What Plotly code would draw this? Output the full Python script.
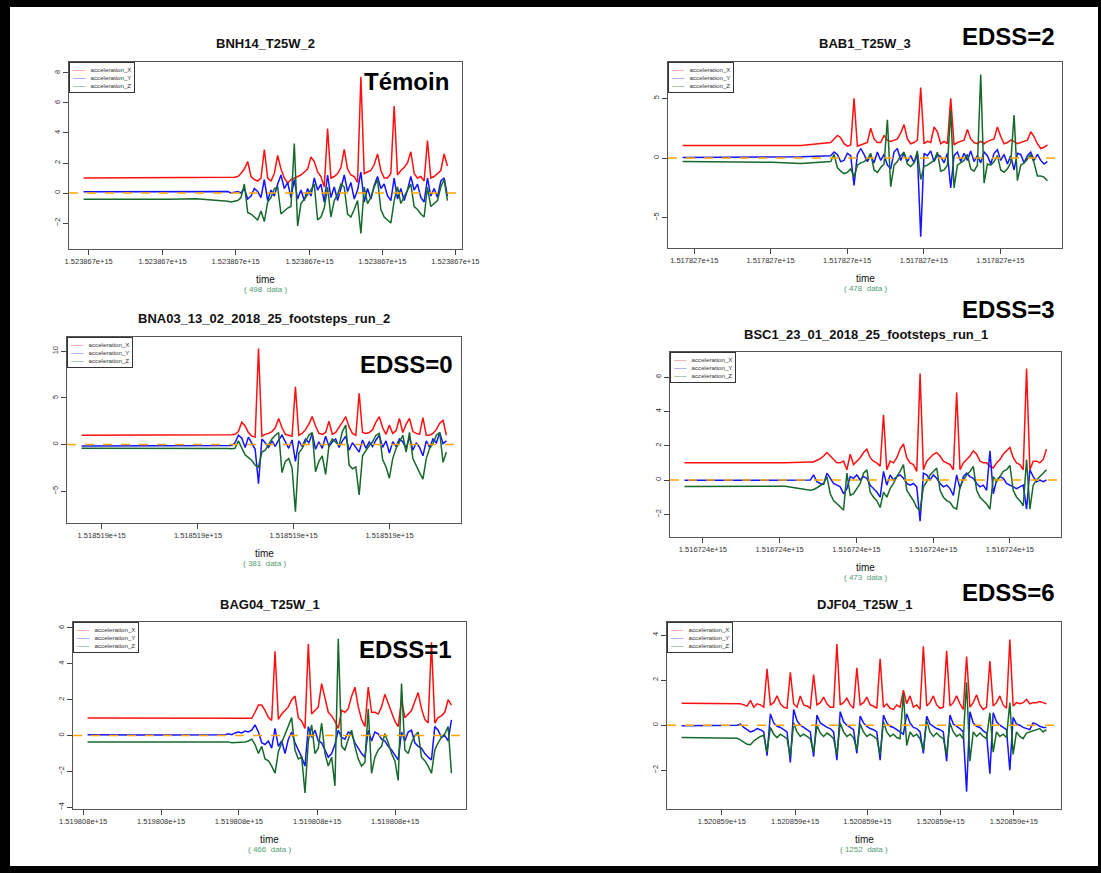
import plotly.graph_objects as go

# ====================== DATA ======================
TITLES = ["BNH14_T25W_2", "BAB1_T25W_3", "BNA03_13_02_2018_25_footsteps_run_2",
          "BSC1_23_01_2018_25_footsteps_run_1", "BAG04_T25W_1", "DJF04_T25W_1"]
TAGS = ["Témoin", "EDSS=2", "EDSS=0", "EDSS=3", "EDSS=1", "EDSS=6"]
N_DATA = [498, 478, 381, 473, 466, 1252]
TICK_LABELS = ["1.523867e+15", "1.517827e+15", "1.518519e+15",
               "1.516724e+15", "1.519808e+15", "1.520859e+15"]
SERIES_NAMES = ["acceleration_X", "acceleration_Y", "acceleration_Z"]

# time axis expressed in % of the recording; ticks where R placed them
X_TICKS_1 = [1.4, 21.7, 41.8, 62.1, 82.1, 102.2]
X_TICKS_2 = [3.2, 24.1, 45.1, 66.1, 87.1]
X_TICKS_3 = [5.5, 31.9, 58.1, 84.4]
X_TICKS_4 = [5.1, 26.3, 47.5, 68.7, 89.9]
X_TICKS_5 = [-1.2, 20.2, 41.6, 63.1, 84.5]
X_TICKS_6 = [11.0, 31.1, 50.9, 71.0, 91.1]

Y_TICKS_1 = [-2, 0, 2, 4, 6, 8]
Y_TICKS_2 = [-5, 0, 5]
Y_TICKS_3 = [-5, 0, 5, 10]
Y_TICKS_4 = [-2, 0, 2, 4, 6]
Y_TICKS_5 = [-4, -2, 0, 2, 4, 6]
Y_TICKS_6 = [-2, 0, 2, 4]

# number of resting samples and % of the record where walking starts
FLAT_COUNT = [5, 5, 5, 5, 5, 2]
WALK_START = [38.7, 40.6, 39.3, 34.75, 37.8, 13.4]

# ---- panel 1 : BNH14_T25W_2 ----
P1_ACC_X = [1.0, 1.0, 1.0, 1.0, 1.0,
            1.0, 1.0, 1.0, 1.05, 1.1, 1.3, 1.6, 2.1, 1.1, 0.9,
            0.8, 1.0, 2.9, 1.0, 0.8, 1.3, 2.5, 1.6, 1.0, 0.65,
            0.9, 1.0, 1.1, 1.2, 1.4, 1.6, 2.4, 2.1, 1.4, 1.1,
            0.4, 4.3, 1.0, 1.1, 1.3, 1.7, 2.9, 1.6, 1.2, 1.1,
            0.7, 7.75, 1.3, 1.4, 1.5, 1.9, 2.6, 1.5, 1.0, 1.0,
            1.3, 5.8, 1.2, 1.5, 1.7, 2.0, 2.75, 1.3, 1.0, 1.1,
            0.8, 3.5, 1.0, 1.1, 1.3, 1.5, 2.6, 1.8]
P1_ACC_Y = [0.08, 0.08, 0.06, 0.08, 0.1,
            0.05, 0.1, 0.0, 0.05, 0.1, 0.0, 0.3, -0.4, -0.2, 0.3,
            0.1, -0.3, 0.9, -0.5, 0.2, -0.2, 0.6, 1.2, 0.3, 0.7,
            -0.3, 0.9, -0.4, 0.2, -0.5, 0.3, -0.2, 1.0, 0.2, 0.6,
            -0.6, 1.2, -0.3, 0.4, -0.5, 0.3, 1.2, 0.1, 0.7, -0.4,
            0.2, 1.4, -0.6, 0.3, -0.4, 0.5, 1.1, 0.3, 0.6, -0.2,
            -0.5, 1.0, -0.4, 0.3, -0.5, 0.2, 1.1, 0.2, 0.6, -0.3,
            -0.6, 1.0, -0.2, 0.3, -0.3, 0.8, 1.0, -0.2]
P1_ACC_Z = [-0.42, -0.43, -0.42, -0.42, -0.38,
            -0.5, -0.55, -0.6, -0.55, -0.5, -0.3, 0.6, -1.3, -1.4, -1.6,
            -1.8, -1.2, -1.9, -0.6, -0.3, 0.3, 0.4, -1.4, -1.2, -1.0,
            -0.9, 3.3, -2.2, -0.7, -0.4, -0.1, 0.2, 0.6, -1.8, -1.6,
            -1.0, 0.4, -1.6, -0.5, -0.1, 0.6, 0.4, -1.4, -1.6, -1.1,
            -0.5, -2.7, 0.4, -0.7, -0.3, 0.4, 0.9, -1.1, -1.6, -1.8,
            -2.0, -0.5, 0.4, -0.7, -0.2, 0.2, 0.6, -0.9, -1.1, -1.4,
            -1.6, 0.4, -0.9, -0.7, -0.5, 0.4, 0.9, -0.5]

# ---- panel 2 : BAB1_T25W_3 ----
P2_ACC_X = [1.05, 1.05, 1.05, 1.05, 1.05,
            1.3, 1.6, 1.9, 1.7, 1.2, 1.0, 1.1, 5.0, 1.0, 1.1,
            1.2, 1.3, 2.5, 1.6, 1.3, 1.3, 1.9, 1.5, 1.4, 1.5,
            1.6, 2.1, 2.8, 1.6, 1.2, 1.3, 1.5, 5.9, 1.2, 1.4,
            1.3, 2.6, 2.2, 1.2, 1.4, 1.2, 5.0, 1.1, 1.3, 1.4,
            1.5, 2.4, 1.6, 1.3, 1.2, 1.4, 1.2, 1.4, 1.5, 1.6,
            2.6, 1.8, 1.2, 1.3, 1.5, 1.4, 1.2, 1.3, 1.4, 1.5,
            2.2, 1.8, 1.2, 0.8, 0.9, 1.1]
P2_ACC_Y = [0.05, 0.05, 0.08, 0.05, 0.1,
            0.2, 0.5, 0.3, -0.3, -0.2, 0.4, 0.2, -2.3, 0.3, 0.8,
            0.3, -0.3, 0.2, -0.4, 0.5, -0.2, 0.3, -0.6, -0.9, 0.5,
            0.8, -0.2, 0.4, -0.3, 0.2, -0.4, 0.3, -6.6, 0.4, 0.2,
            0.6, -0.3, 0.3, 0.1, -0.4, 0.4, -2.5, 0.2, 0.5, -0.3,
            0.4, -0.2, 0.6, -0.3, 0.2, -0.4, 0.5, 0.2, -0.5, 0.4,
            0.7, -0.2, 0.3, -0.5, 0.2, -1.0, 0.4, 0.3, -0.4, 0.2,
            0.5, -0.2, 0.3, -0.2, -0.5, -0.3]
P2_ACC_Z = [-0.28, -0.3, -0.3, -0.35, -0.45,
            -0.3, 0.3, -0.8, -1.1, -1.3, -1.2, -0.9, -1.6, -0.6, -0.4,
            -0.3, -0.1, 0.4, -1.0, -1.2, -0.8, -0.5, 3.2, -2.4, -0.6,
            -0.3, 0.2, 0.5, -0.5, -0.7, -0.4, 0.6, -1.8, -0.7, -0.6,
            -0.4, -0.2, 0.5, -1.1, -1.0, -0.6, 4.0, -2.5, -0.6, -0.4,
            -0.2, 0.3, -0.9, -1.1, -0.6, 7.0, -2.1, -0.5, -0.6, -0.3,
            0.2, -1.0, -1.2, -0.9, -0.4, 3.6, -1.9, -0.6, -0.4, -0.1,
            0.3, -0.4, -1.5, -1.5, -1.6, -1.9]

# ---- panel 3 : BNA03_13_02_2018_25_footsteps_run_2 ----
P3_ACC_X = [1.0, 1.0, 1.0, 1.0, 1.0,
            1.05, 1.05, 1.05, 1.1, 1.4, 2.4, 2.0, 1.3, 0.9, 0.8,
            10.3, 0.9, 1.1, 1.2, 1.4, 1.8, 2.8, 1.8, 1.1, 1.0,
            0.9, 6.2, 1.0, 1.2, 1.6, 2.2, 3.0, 2.0, 1.2, 1.1,
            1.3, 2.5, 1.1, 1.3, 1.8, 2.4, 3.0, 1.9, 1.2, 1.0,
            5.5, 1.3, 1.2, 1.3, 1.6, 2.4, 3.0, 1.8, 1.1, 2.1,
            1.2, 1.5, 2.8, 1.3, 2.2, 2.8, 1.4, 1.2, 1.1, 2.9,
            1.0, 1.0, 1.2, 1.6, 2.3, 2.6, 1.0]
P3_ACC_Y = [-0.14, -0.12, -0.13, -0.12, -0.1,
            -0.1, -0.1, -0.1, 0.2, 1.0, 0.7, -0.3, 0.8, 0.1, -0.5,
            -4.2, 0.6, 0.2, -0.3, 0.4, -0.2, 0.5, 1.0, 0.3, -0.4,
            0.5, -1.8, 0.4, -0.2, 0.6, 0.2, 1.2, -0.5, 0.3, -0.4,
            0.9, -0.2, 0.3, 0.6, -0.3, 0.4, 0.9, -0.6, 0.2, -0.3,
            -0.8, 0.5, -0.4, 0.3, -0.2, 0.5, 1.0, -0.3, 0.4, -0.9,
            0.3, -0.2, 0.6, 0.3, -0.4, 0.8, -0.6, 0.2, -0.3, -1.2,
            0.4, -0.3, 0.6, 0.2, 1.3, 0.1, 0.4]
P3_ACC_Z = [-0.38, -0.38, -0.36, -0.36, -0.38,
            -0.43, -0.43, -0.45, -0.4, 0.4, -0.4, -1.1, -1.4, -1.7, -2.2,
            -2.4, -0.8, -0.6, 0.0, 0.6, 1.0, 1.3, -3.0, -1.8, -1.5,
            -2.5, -7.2, -0.9, -0.4, 0.3, 1.0, 1.3, -2.9, -1.8, -1.2,
            -3.2, -0.1, 0.6, 0.3, -0.1, 1.4, 2.1, -2.2, -2.6, -2.4,
            -5.4, -1.2, -0.6, -0.1, 0.3, 1.0, 1.2, -1.6, -2.4, -3.6,
            -1.5, -0.4, 0.3, 1.0, -0.8, 1.3, -1.5, -2.3, -3.0, -3.7,
            -1.5, -0.4, 0.1, 1.0, 1.3, -1.9, -0.8]

# ---- panel 4 : BSC1_23_01_2018_25_footsteps_run_1 ----
P4_ACC_X = [1.0, 1.0, 1.0, 1.0, 1.0,
            1.05, 1.05, 1.15, 1.25, 1.4, 1.6, 1.4, 1.2, 1.0, 1.0,
            1.1, 0.6, 1.5, 0.9, 1.1, 1.3, 1.6, 1.8, 1.3, 1.1,
            1.0, 0.8, 3.8, 0.6, 1.1, 1.0, 1.3, 1.8, 2.1, 1.3,
            1.0, 0.9, 0.5, 6.2, 0.6, 1.1, 1.3, 1.5, 1.6, 1.4,
            1.1, 1.0, 0.9, 0.6, 5.1, 0.6, 1.0, 1.2, 1.4, 1.7,
            1.5, 1.1, 1.0, 1.0, 0.8, 0.7, 1.0, 1.2, 1.5, 1.7,
            1.9, 1.3, 1.0, 0.9, 0.6, 6.5, 0.6, 1.1, 1.1, 1.0,
            1.2, 1.8]
P4_ACC_Y = [-0.02, -0.02, -0.03, -0.02, 0.0,
            0.0, 0.3, -0.1, -0.2, -0.25, 0.4, 0.1, -0.2, -0.3, -0.4,
            -0.8, -0.5, 0.2, 0.1, 0.3, 0.0, 0.2, 0.1, -0.3, -0.5,
            -0.7, -1.0, 0.5, -0.3, 0.3, 0.0, 0.2, 0.3, 0.1, -0.2,
            -0.3, -0.2, -0.4, -2.4, 0.4, 0.3, 0.0, 0.3, 0.1, -0.2,
            -0.4, -0.3, -0.5, -0.9, 0.3, -0.5, 0.2, 0.4, 0.2, 0.1,
            -0.2, -0.4, -0.3, -0.6, 1.7, -0.8, 0.0, 0.2, 0.1, -0.2,
            -0.3, -0.4, -0.5, -0.4, -0.3, -1.7, 0.6, 0.2, -0.1, 0.0,
            -0.1, 0.0]
P4_ACC_Z = [-0.38, -0.38, -0.37, -0.38, -0.36,
            -0.6, -0.55, -0.45, -0.3, -0.2, 0.2, -0.8, -1.2, -1.4, -1.6,
            -1.75, 0.4, -0.9, -0.8, -0.5, -0.2, 0.4, 0.6, -0.7, -1.0,
            -1.2, -1.6, -0.7, -1.0, -0.5, -0.2, 0.2, 0.5, 0.9, -0.6,
            -0.9, -1.2, -1.6, -1.8, -0.4, -0.1, 0.3, 0.5, 0.7, -0.6,
            -1.0, -1.2, -1.3, -1.6, -1.7, -0.4, 0.0, 0.3, 0.5, 0.8,
            -0.6, -1.0, -1.2, -1.4, -1.7, 0.2, -0.1, 0.2, 0.5, 0.6,
            0.85, -0.6, -1.0, -1.2, -1.5, 1.2, -1.7, -0.3, 0.0, 0.2,
            0.4, 0.6]

# ---- panel 5 : BAG04_T25W_1 ----
P5_ACC_X = [0.98, 0.98, 0.97, 0.97, 0.97,
            0.96, 0.96, 0.96, 0.95, 0.95, 0.96, 0.95, 0.95, 0.96, 1.3,
            1.7, 1.7, 1.4, 1.0, 0.85, 4.7, 0.9, 1.2, 1.4, 1.6,
            2.0, 2.2, 1.0, 0.8, 0.4, 5.1, 1.2, 1.4, 1.6, 2.9,
            2.0, 1.3, 1.1, 0.8, 0.4, 1.4, 1.3, 1.5, 2.2, 2.7,
            1.6, 0.9, 0.5, 2.7, 1.3, 1.3, 1.2, 1.6, 2.3, 1.8,
            1.2, 0.8, 0.5, 2.0, 1.0, 1.2, 1.4, 1.9, 2.4, 1.5,
            0.9, 0.7, 5.2, 0.7, 1.0, 1.1, 1.3, 2.0, 1.7]
P5_ACC_Y = [0.05, 0.02, 0.03, 0.03, 0.04,
            0.05, 0.1, 0.05, 0.15, 0.2, 0.15, 0.25, 0.2, 0.3, 0.6,
            0.2, -0.4, -0.5, -0.3, -0.7, 0.4, -0.6, -0.3, -1.0, -0.2,
            0.2, -0.4, -0.8, -1.2, -1.7, 0.5, -0.1, 0.3, -0.3, -0.4,
            -0.8, -1.2, -1.0, -0.5, 0.3, -0.1, -0.2, 0.2, 0.1, -0.4,
            -0.7, -1.0, -1.2, 0.3, -0.3, 0.2, 0.1, -0.2, -0.3, -0.6,
            -0.8, -1.1, -1.35, 0.2, -0.3, 0.2, 0.3, -0.4, -0.6, -0.7,
            -1.0, -1.2, -1.35, 0.5, 0.3, -0.1, 0.0, -0.3, 0.87]
P5_ACC_Z = [-0.35, -0.37, -0.36, -0.36, -0.35,
            -0.33, -0.35, -0.4, -0.4, -0.38, -0.38, -0.36, -0.3, -0.2, -0.5,
            -1.0, -0.6, -1.3, -1.4, -1.7, -2.1, -0.9, -0.4, 0.1, 0.6,
            1.0, -0.8, -1.3, -1.2, -3.2, -0.3, 0.6, -1.0, -0.7, 0.7,
            -1.0, -1.7, -1.2, -2.8, 5.4, -0.6, -0.8, -0.2, 0.3, -0.6,
            -1.3, -1.7, -1.5, 1.5, -2.1, -1.2, -0.8, -0.6, 0.1, -0.4,
            -1.0, -1.4, -2.5, 2.9, -0.8, -1.0, -0.4, 0.0, 0.2, -1.2,
            -1.4, -1.7, -2.1, -0.8, -0.4, -0.1, 0.1, 0.5, -2.1]

# ---- panel 6 : DJF04_T25W_1 ----
P6_ACC_X = [0.97, 0.97,
            0.97, 0.97, 0.97, 0.95, 0.9, 0.85, 1.1, 0.8, 0.95, 0.9,
            0.8, 2.5, 0.9, 1.0, 1.3, 0.95, 0.8, 0.75, 2.35, 0.95,
            0.8, 1.3, 0.9, 0.85, 0.75, 2.25, 0.9, 1.0, 1.25, 0.95,
            0.8, 0.8, 3.6, 0.9, 1.0, 1.2, 0.9, 0.75, 2.55, 0.9,
            1.0, 1.25, 0.9, 0.85, 0.75, 2.95, 0.8, 0.95, 0.75, 0.7,
            0.9, 0.8, 1.55, 0.95, 1.3, 0.8, 0.9, 0.7, 3.5, 0.85,
            1.0, 1.3, 0.9, 0.75, 0.8, 3.3, 0.85, 1.0, 1.3, 0.95,
            0.7, 3.05, 0.8, 1.0, 1.35, 0.9, 0.7, 0.8, 2.85, 0.85,
            1.0, 1.3, 0.9, 0.75, 3.8, 0.85, 1.0, 0.95, 1.0, 1.15,
            0.95, 1.0, 1.0, 1.05, 1.0, 0.95]
P6_ACC_Y = [-0.02, -0.02,
            0.0, -0.02, 0.0, 0.05, -0.1, -0.2, -0.3, -0.25, -0.15, -0.2,
            -0.3, -1.35, 0.5, 0.1, -0.05, -0.1, -0.2, -0.3, -1.65, 0.7,
            0.2, 0.0, -0.1, -0.2, -0.3, -1.4, 0.45, 0.1, 0.0, -0.1,
            -0.15, -0.3, -1.55, 0.6, 0.15, 0.0, -0.1, -0.2, -1.25, 0.4,
            0.1, -0.05, -0.15, -0.2, -0.3, -1.55, 0.45, 0.1, -0.05, -0.1,
            -0.2, -0.3, -0.4, 0.5, 0.1, -0.1, -0.15, -0.3, -1.25, 0.4,
            0.05, -0.05, -0.15, -0.2, -0.3, -1.6, 0.45, 0.05, -0.05, -0.15,
            -0.3, -2.95, 0.6, 0.1, -0.05, -0.1, -0.25, -0.35, -2.15, 0.55,
            0.15, 0.0, -0.1, -0.2, -2.0, 0.35, 0.05, 0.0, -0.1, -0.15,
            -0.2, 0.1, 0.05, -0.05, -0.1, -0.1]
P6_ACC_Z = [-0.55, -0.55,
            -0.55, -0.56, -0.58, -0.65, -0.75, -0.85, -0.87, -0.7, -0.6, -0.5,
            -0.45, -1.2, -0.1, -0.4, -0.55, -0.4, -0.5, -0.6, -1.4, 0.1,
            -0.3, -0.5, -0.4, -0.5, -0.6, -1.2, 0.0, -0.35, -0.5, -0.35,
            -0.45, -0.6, -1.3, 0.1, -0.3, -0.5, -0.4, -0.55, -1.1, 0.05,
            -0.3, -0.5, -0.4, -0.5, -0.6, -1.3, 0.15, -0.3, -0.5, -0.4,
            -0.55, -0.6, 1.4, -0.9, -0.3, -0.5, -0.4, -0.6, -1.1, 0.2,
            -0.3, -0.5, -0.35, -0.5, -0.6, -1.3, 0.1, -0.3, -0.5, -0.4,
            -0.6, 1.9, -1.6, -0.3, -0.5, -0.35, -0.5, -0.6, 0.55, -1.2,
            -0.3, -0.5, -0.4, -0.55, 1.0, -1.3, -0.3, -0.5, -0.6, -0.35,
            -0.3, -0.25, -0.2, -0.15, -0.3, -0.2]

SERIES = [
    (P1_ACC_X, P1_ACC_Y, P1_ACC_Z),
    (P2_ACC_X, P2_ACC_Y, P2_ACC_Z),
    (P3_ACC_X, P3_ACC_Y, P3_ACC_Z),
    (P4_ACC_X, P4_ACC_Y, P4_ACC_Z),
    (P5_ACC_X, P5_ACC_Y, P5_ACC_Z),
    (P6_ACC_X, P6_ACC_Y, P6_ACC_Z),
]
X_TICKS = [X_TICKS_1, X_TICKS_2, X_TICKS_3, X_TICKS_4, X_TICKS_5, X_TICKS_6]
Y_TICKS = [Y_TICKS_1, Y_TICKS_2, Y_TICKS_3, Y_TICKS_4, Y_TICKS_5, Y_TICKS_6]

# ====================== LAYOUT ======================
W, H = 1101, 873
FONT = "Liberation Sans, Arial, Helvetica, sans-serif"
COLORS = ["#ff1010", "#1414ff", "#16692a"]

# plot boxes in pixels: (left, right, top, bottom)
BOXES = [(69, 462, 62, 249), (668, 1062, 62, 248),
         (67, 461, 337, 523), (670, 1061, 352, 537),
         (73, 466, 622, 809), (667, 1061, 622, 809)]
Y_RANGES = [(-3.73, 8.73), (-7.54, 8.05), (-8.4, 11.53),
            (-3.32, 7.46), (-4.09, 6.33), (-3.72, 4.58)]
X_RANGE = (-4, 104)
TAG_POS = [(406, 81), (1008, 37), (406, 364), (1008, 309), (405, 649), (1008, 592)]


def sample_positions(n_values, n_flat, start):
    n_act = n_values - n_flat
    flat = [start * i / n_flat for i in range(n_flat)]
    act = [start + (100.0 - start) * i / (n_act - 1) for i in range(n_act)]
    return flat + act


# compact R-style legend text (coloured line glyph + series name)
LEGEND_TEXT = "<br>".join(
    "<span style='color:%s'>\u2014\u2014</span>\u00a0\u00a0\u00a0%s" % (c, n)
    for c, n in zip(COLORS, SERIES_NAMES))

fig = go.Figure()
layout = dict(width=W, height=H, autosize=False, showlegend=False,
              margin=dict(l=0, r=0, t=0, b=0, pad=0, autoexpand=False),
              paper_bgcolor="white", plot_bgcolor="white",
              font=dict(family=FONT, color="#222"))
annotations = []
shapes = []

for k in range(6):
    sfx = "" if k == 0 else str(k + 1)
    l, r, t, b = BOXES[k]
    for name, ys, col in zip(SERIES_NAMES, SERIES[k], COLORS):
        fig.add_trace(go.Scatter(
            x=sample_positions(len(ys), FLAT_COUNT[k], WALK_START[k]), y=ys,
            mode="lines", name=name, line=dict(color=col, width=1.5),
            xaxis="x" + sfx, yaxis="y" + sfx, hoverinfo="skip"))
    layout["xaxis" + sfx] = dict(
        domain=[l / W, r / W], range=list(X_RANGE), anchor="y" + sfx,
        tickmode="array", tickvals=X_TICKS[k], ticktext=[TICK_LABELS[k]] * len(X_TICKS[k]),
        showline=True, mirror=True, linecolor="#555", linewidth=1,
        ticks="outside", ticklen=5, tickcolor="#444", tickwidth=1, automargin=False,
        tickfont=dict(size=7.5, color="#333"), showgrid=False, zeroline=False)
    layout["yaxis" + sfx] = dict(
        domain=[1 - b / H, 1 - t / H], range=list(Y_RANGES[k]), anchor="x" + sfx,
        tickmode="array", tickvals=Y_TICKS[k], tickangle=-90,
        showline=True, mirror=True, linecolor="#555", linewidth=1,
        ticks="outside", ticklen=5, tickcolor="#444", tickwidth=1, automargin=False,
        tickfont=dict(size=7.5, color="#333"), showgrid=False, zeroline=False)
    xd, yd = "x" + sfx + " domain", "y" + sfx + " domain"
    annotations += [
        dict(text="<b>" + TITLES[k] + "</b>", xref=xd, yref=yd, x=0.5, y=1,
             xanchor="center", yanchor="middle", yshift=18, showarrow=False,
             font=dict(size=13, color="#111")),
        dict(text="time", xref=xd, yref=yd, x=0.5, y=0, xanchor="center",
             yanchor="middle", yshift=-30, showarrow=False,
             font=dict(size=10, color="#111")),
        dict(text="( %d  data )" % N_DATA[k], xref=xd, yref=yd, x=0.5, y=0,
             xanchor="center", yanchor="middle", yshift=-40, showarrow=False,
             font=dict(size=8, color="#4f9d6f")),
        dict(text="<b>" + TAGS[k] + "</b>", xref="paper", yref="paper",
             x=TAG_POS[k][0] / W, y=1 - TAG_POS[k][1] / H, xanchor="center",
             yanchor="middle", showarrow=False, font=dict(size=24, color="black")),
        dict(text=LEGEND_TEXT, xref=xd, yref=yd, x=0, y=1, xanchor="left",
             yanchor="top", align="left", showarrow=False, bgcolor="white",
             bordercolor="#333", borderwidth=1, borderpad=3,
             font=dict(size=6.2, color="#333")),
    ]
    shapes.append(dict(type="line", xref=xd, yref="y" + sfx, x0=0, x1=1, y0=0, y1=0,
                       line=dict(color="#ffa500", width=1.5, dash="dash"), layer="above"))

# black frame of the figure
for x0, x1, y0, y1 in [(0, 10, 0, H), (0, W, 0, 7), (0, W, H - 7, H), (W - 3, W, 0, H)]:
    shapes.append(dict(type="rect", xref="paper", yref="paper",
                       x0=x0 / W, x1=x1 / W, y0=1 - y1 / H, y1=1 - y0 / H,
                       fillcolor="black", line=dict(width=0), layer="above"))

layout["annotations"] = annotations
layout["shapes"] = shapes
fig.update_layout(**layout)

fig.write_html(
    "out.html", config={"displayModeBar": False},
    post_script=("document.documentElement.style.margin='0';"
                 "document.body.style.margin='0';document.body.style.padding='0';"
                 "document.documentElement.style.overflow='hidden';"
                 "document.body.style.overflow='hidden';"))
